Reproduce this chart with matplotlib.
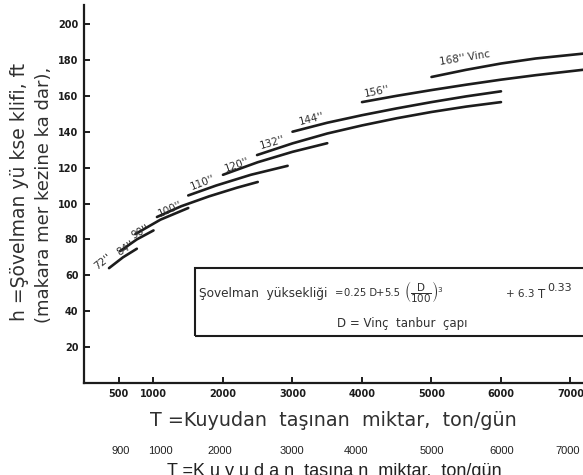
import matplotlib
matplotlib.use("Agg")
import matplotlib.pyplot as plt
from matplotlib.patches import Rectangle

# ---- data ----
drum_labels = ["72''", "84''", "90''", "100''", "110''", "120''", "132''", "144''", "156''", "168'' Vinc"]

curve_T = [
    [360, 560, 760],
    [520, 760, 1000],
    [740, 1100, 1500],
    [1050, 1400, 1800, 2200, 2500],
    [1500, 1900, 2400, 2930],
    [2000, 2500, 3000, 3500],
    [2490, 3000, 3500, 4000, 4500, 5000, 5500, 6000],
    [3000, 3500, 4000, 4500, 5000, 5500, 6000],
    [4000, 4500, 5000, 5500, 6000, 6500, 7180],
    [5000, 5500, 6000, 6500, 7180],
]
curve_h = [
    [64.0, 70.0, 74.8],
    [73.5, 80.0, 85.0],
    [83.0, 91.0, 97.5],
    [92.5, 98.5, 104.0, 108.8, 112.0],
    [104.5, 110.0, 116.0, 121.0],
    [116.0, 123.0, 128.8, 133.6],
    [127.0, 133.5, 139.0, 143.5, 147.5, 151.0, 154.0, 156.5],
    [140.0, 145.0, 149.2, 153.0, 156.5, 159.7, 162.5],
    [156.5, 160.0, 163.2, 166.2, 169.0, 171.5, 174.5],
    [170.5, 174.5, 178.0, 180.8, 183.5],
]

# label anchor positions (T, h) and rotation
label_T = [270, 605, 810, 1240, 1700, 2200, 2710, 3270, 4220, 5480]
label_h = [67.5, 74.8, 84.2, 97.0, 111.4, 121.6, 133.8, 147.2, 162.6, 181.0]
label_rot = [38, 33, 28, 24, 21, 19, 16, 14, 11, 9]

x_ticks = [500, 1000, 2000, 3000, 4000, 5000, 6000, 7000]
y_ticks = [20, 40, 60, 80, 100, 120, 140, 160, 180, 200]

second_row_labels = ["900", "1000", "2000", "3000", "4000", "5000", "6000", "7000"]

ink = "#1c1c1c"
txtc = "#303030"

fig = plt.figure(figsize=(5.83, 4.75), dpi=100)
W, H = 583, 475


def ptext(px, py, s, **kw):
    return fig.text(px / W, 1 - py / H, s, **kw)


ax = fig.add_axes([84 / W, 1 - 383 / H, (583 - 84) / W, (383 - 5) / H])
ax.set_xlim(0, 7180)
ax.set_ylim(0, 210.6)

for s in ["top", "right"]:
    ax.spines[s].set_visible(False)
for s in ["left", "bottom"]:
    ax.spines[s].set_linewidth(1.6)
    ax.spines[s].set_color(ink)

ax.set_xticks(x_ticks)
ax.set_yticks(y_ticks)
ax.tick_params(direction="in", length=4, width=1.4, colors=ink, pad=4)
for lab in ax.get_xticklabels() + ax.get_yticklabels():
    lab.set_fontweight("bold")
    lab.set_fontsize(7)
    lab.set_color(ink)

for T, h in zip(curve_T, curve_h):
    ax.plot(T, h, color=ink, lw=1.9, solid_capstyle="round")

for txt, T, h, r in zip(drum_labels, label_T, label_h, label_rot):
    ax.text(T, h, txt, rotation=r, fontsize=7.5, color=txtc,
            ha="center", va="center", rotation_mode="anchor")

# formula box
box = Rectangle((1597, 26.2), 6000, 37.8, fill=False, lw=1.5, edgecolor=ink, clip_on=True)
ax.add_patch(box)
ptext(199, 293, "Şovelman  yüksekliği", fontsize=8.7, color=txtc, ha="left", va="center")
ptext(335, 293, "=", fontsize=7.2, color=txtc, ha="left", va="center")
ptext(344, 293, "0.25 D", fontsize=7.2, color=txtc, ha="left", va="center")
ptext(376, 293, "+", fontsize=7.2, color=txtc, ha="left", va="center")
ptext(384, 293, "5.5", fontsize=7.2, color=txtc, ha="left", va="center")
ptext(404, 292, r"$\left(\dfrac{\mathrm{D}}{100}\right)^3$", fontsize=7.5, color=txtc,
      ha="left", va="center")
ptext(506, 294, "+ 6.3", fontsize=7.5, color=txtc, ha="left", va="center")
ptext(538, 294, "T", fontsize=8.5, color=txtc, ha="left", va="center")
ptext(547, 288, "0.33", fontsize=8, color=txtc, ha="left", va="center")
ptext(402, 323, "D = Vinç  tanbur  çapı", fontsize=8.5, color=txtc, ha="center", va="center")

# axis titles
ptext(20, 192, "h =Şövelman yü kse klifi, ft", rotation=90,
      fontsize=13.5, color=txtc, ha="center", va="center")
ptext(44, 195, "(makara mer kezine ka dar),", rotation=90,
      fontsize=13, color=txtc, ha="center", va="center")
ptext(333, 421, "T =Kuyudan  taşınan  miktar,  ton/gün",
      fontsize=13.8, color=txtc, ha="center", va="center")

# second (duplicated) row of labels below the chart
second_row_px = [121, 160, 220, 292, 356, 432, 502, 568]
for txt, px in zip(second_row_labels, second_row_px):
    ptext(px, 451, txt, fontsize=8, color="#222222",
          ha="center", va="center", family="Liberation Sans")
ptext(334, 471, "T =K u y u d a n  taşına n  miktar,  ton/gün",
      fontsize=13, color="#222222", ha="center", va="center", family="Liberation Sans")

fig.savefig("out.png", dpi=100)
